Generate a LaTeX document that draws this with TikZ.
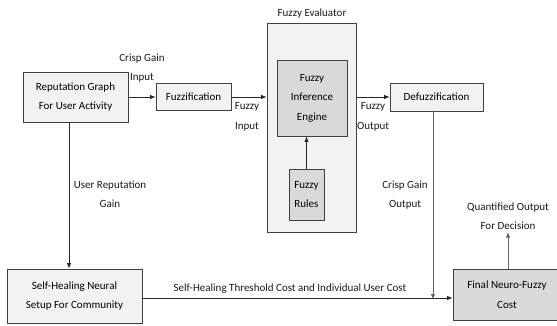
\documentclass[tikz,border=0pt]{standalone}
\usepackage{fontspec}
\setmainfont{Carlito}
\usetikzlibrary{positioning,arrows,arrows.meta,calc}

\begin{document}
\begin{tikzpicture}[>={Latex[length=5.5pt,width=4.5pt]}, x=1pt, y=-1pt]
      \tikzset{
	  block/.style={draw=black!75, line width=0.8pt, fill=gray!10, align=center, inner sep=0pt, font=\fontsize{11}{19.5}\selectfont},
	  darkblock/.style={block, fill=gray!30},
	  tag/.style={align=center, inner sep=0pt, text=black!90, font=\fontsize{11}{19.5}\selectfont},
	  flow/.style={->, black!85, line width=0.8pt},
	  grayflow/.style={->, black!60, line width=0.9pt}
      }
      \useasboundingbox (0,0) rectangle (557,325);

      %-----left column
      \node[block, minimum width=105pt, minimum height=50pt] (rep) at (75.5,97) {Reputation Graph\\For User Activity};
      \node[block, minimum width=135pt, minimum height=54pt] (heal) at (74.5,296) {Self-Healing Neural\\Setup For Community};

      %-----fuzzy chain
      \node[block, minimum width=75pt, minimum height=27pt] (fuzz) at (193.5,97) {Fuzzification};
      \node[block, minimum width=89pt, minimum height=209pt] (eval) at (311.5,127.5) {};
      \node[tag] (evaltitle) at (312,14) {Fuzzy Evaluator};
      \node[darkblock, minimum width=70pt, minimum height=76pt] (engine) at (312,98) {Fuzzy\\Inference\\Engine};
      \node[darkblock, minimum width=35pt, minimum height=51pt] (rules) at (306.5,194.5) {Fuzzy\\Rules};
      \node[block, minimum width=93pt, minimum height=28pt] (defuzz) at (436.5,97) {Defuzzification};

      %-----result
      \node[darkblock, minimum width=108pt, minimum height=51pt] (final) at (507,294.5) {Final Neuro-Fuzzy\\Cost};
      \coordinate (hline) at (0,298);
      \coordinate (qout) at (508,232);

      %-----labels
      \node[tag] (lcrispin) at (142,68) {Crisp Gain\\Input};
      \node[tag] (lfuzzin) at (247,117) {Fuzzy\\Input};
      \node[tag] (lfuzzout) at (373,117) {Fuzzy\\Output};
      \node[tag] (lcrispout) at (405,195) {Crisp Gain\\Output};
      \node[tag] (lrepgain) at (110,194) {User Reputation\\Gain};
      \node[tag] (lquant) at (508,216) {Quantified Output\\For Decision};
      \node[tag] (lcost) at (290,289) {Self-Healing Threshold Cost and Individual User Cost};

      %-----connectors
      \draw[flow] (rep.east) -- (fuzz.west);
      \draw[flow] (fuzz.east) -- (eval.west |- fuzz.east);
      \draw[flow] (eval.east |- defuzz.west) -- (defuzz.west);
      \draw[flow] (rules.north) -- (engine.south -| rules.north);
      \draw[flow] ([xshift=-6.5pt]rep.south) -- ([xshift=-6.5pt]rep.south |- heal.north);
      \draw[flow] (heal.east |- hline) -- (final.west |- hline);
      \draw[grayflow] ([xshift=-3.5pt]defuzz.south) -- ([xshift=-3.5pt,yshift=-1.5pt]defuzz.south |- hline);
      \draw[grayflow] (final.north -| qout) -- (qout);
\end{tikzpicture}
\end{document}
